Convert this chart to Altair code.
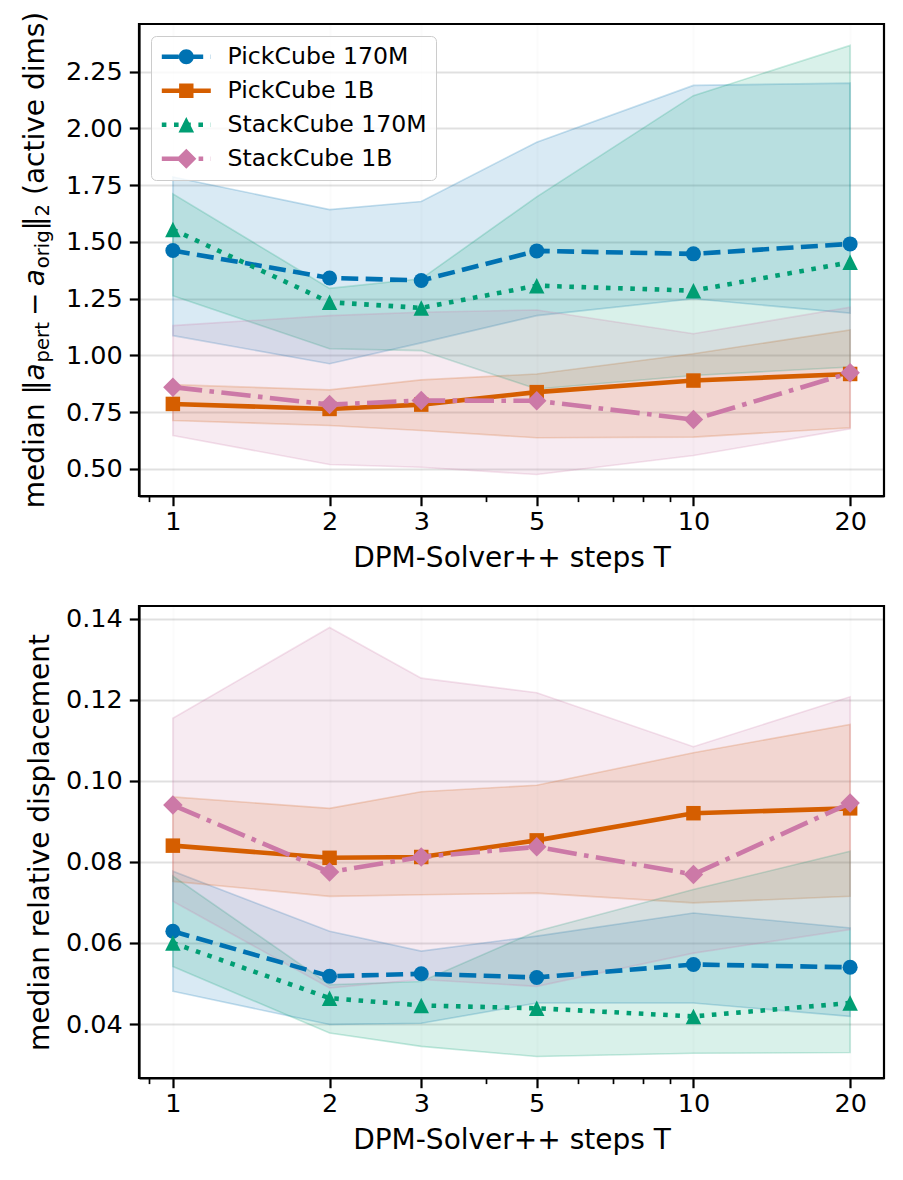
import math
import altair as alt
import pandas as pd

# ---------------- data ----------------
steps = [1, 2, 3, 5, 10, 20]
series_names = ["PickCube 170M", "PickCube 1B", "StackCube 170M", "StackCube 1B"]

# top panel: median ||a_pert - a_orig||_2 (active dims)
top_pick170_med = [1.462, 1.341, 1.330, 1.460, 1.447, 1.491]
top_pick170_lo = [1.087, 0.963, 1.055, 1.175, 1.249, 1.186]
top_pick170_hi = [1.786, 1.642, 1.678, 1.939, 2.189, 2.199]

top_pick1b_med = [0.786, 0.764, 0.783, 0.838, 0.889, 0.918]
top_pick1b_lo = [0.713, 0.691, 0.669, 0.637, 0.640, 0.681]
top_pick1b_hi = [0.871, 0.848, 0.892, 0.918, 1.007, 1.112]

top_stack170_med = [1.554, 1.234, 1.209, 1.307, 1.285, 1.410]
top_stack170_lo = [1.263, 1.029, 1.021, 0.852, 0.911, 0.949]
top_stack170_hi = [1.711, 1.295, 1.337, 1.698, 2.144, 2.365]

top_stack1b_med = [0.860, 0.783, 0.801, 0.800, 0.717, 0.923]
top_stack1b_lo = [0.647, 0.519, 0.507, 0.475, 0.559, 0.676]
top_stack1b_hi = [1.131, 1.175, 1.190, 1.200, 1.095, 1.212]

# bottom panel: median relative displacement
bot_pick170_med = [0.0629, 0.0518, 0.0524, 0.0515, 0.0547, 0.0540]
bot_pick170_lo = [0.0481, 0.0399, 0.0402, 0.0452, 0.0452, 0.0419]
bot_pick170_hi = [0.0777, 0.0629, 0.0580, 0.0617, 0.0674, 0.0637]

bot_pick1b_med = [0.0840, 0.0810, 0.0812, 0.0853, 0.0920, 0.0932]
bot_pick1b_lo = [0.0752, 0.0715, 0.0719, 0.0723, 0.0699, 0.0715]
bot_pick1b_hi = [0.0960, 0.0932, 0.0973, 0.0989, 0.1069, 0.1139]

bot_stack170_med = [0.0600, 0.0464, 0.0446, 0.0439, 0.0419, 0.0452]
bot_stack170_lo = [0.0542, 0.0378, 0.0345, 0.0320, 0.0328, 0.0330]
bot_stack170_hi = [0.0765, 0.0497, 0.0505, 0.0629, 0.0732, 0.0826]

bot_stack1b_med = [0.0940, 0.0775, 0.0812, 0.0837, 0.0769, 0.0945]
bot_stack1b_lo = [0.0703, 0.0489, 0.0510, 0.0493, 0.0575, 0.0633]
bot_stack1b_hi = [0.1154, 0.1378, 0.1253, 0.1217, 0.1084, 0.1207]

top_ticks = [0.50, 0.75, 1.00, 1.25, 1.50, 1.75, 2.00, 2.25]
bot_ticks = [0.04, 0.06, 0.08, 0.10, 0.12, 0.14]
x_major = [1, 2, 3, 5, 10, 20]
x_minor = [0.9, 4, 6, 7, 8, 9]

# ---------------- style ----------------
FONT = "DejaVu Sans"
colors = ["#0072B2", "#D55E00", "#009E73", "#CC79A7"]
LW = 4.6
dashes = [[17, 7.4], None, [4.6, 7.6], [29.4, 7.4, 4.6, 7.4]]
TRI = "M0,-1L1,1L-1,1Z"
DIA = "M0,-1L1,0L0,1L-1,0Z"
plot_shapes = ["circle", "square", TRI, DIA]
plot_sizes = [225, 210, 240, 380]

W, H = 745, 472


def legend_path(i):
    s = 10.0  # px per unit for symbolSize 400
    L0, L = -10.0, 49.0
    cx = L0 + L / 2
    h = LW / 2
    parts = []

    def rect(a, b):
        parts.append(f"M{a/s:.3f},{-h/s:.3f}L{b/s:.3f},{-h/s:.3f}L{b/s:.3f},{h/s:.3f}L{a/s:.3f},{h/s:.3f}Z")

    pat = dashes[i]
    if pat is None:
        rect(L0, L0 + L)
    else:
        pos, k = 0.0, 0
        while pos < L:
            seg = pat[k % len(pat)]
            if k % 2 == 0:
                rect(L0 + pos, L0 + min(pos + seg, L))
            pos += seg
            k += 1
    if i == 0:
        r = 7.5
        parts.append(f"M{(cx-r)/s:.3f},0A{r/s:.3f},{r/s:.3f} 0 1,1 {(cx+r)/s:.3f},0A{r/s:.3f},{r/s:.3f} 0 1,1 {(cx-r)/s:.3f},0Z")
    elif i == 1:
        a = 7.2
        parts.append(f"M{(cx-a)/s:.3f},{-a/s:.3f}L{(cx+a)/s:.3f},{-a/s:.3f}L{(cx+a)/s:.3f},{a/s:.3f}L{(cx-a)/s:.3f},{a/s:.3f}Z")
    elif i == 2:
        a = 7.8
        parts.append(f"M{cx/s:.3f},{-a/s:.3f}L{(cx+a)/s:.3f},{a/s:.3f}L{(cx-a)/s:.3f},{a/s:.3f}Z")
    else:
        a = 10.0
        parts.append(f"M{cx/s:.3f},{-a/s:.3f}L{(cx+a)/s:.3f},0L{cx/s:.3f},{a/s:.3f}L{(cx-a)/s:.3f},0Z")
    return "".join(parts)


legend_paths = [legend_path(i) for i in range(4)]


def padded(vals):
    lo, hi = min(vals), max(vals)
    m = 0.05 * (hi - lo)
    return [lo - m, hi + m]


lx = [math.log10(v) for v in steps]
lm = 0.05 * (lx[-1] - lx[0])
x_domain = [10 ** (lx[0] - lm), 10 ** (lx[-1] + lm)]

minor_test = "indexof([0.9,4,6,7,8,9], datum.value) >= 0"
x_axis = alt.Axis(
    values=sorted(x_major + x_minor),
    labelExpr="indexof([1,2,3,5,10,20], datum.value) >= 0 ? format(datum.value, 'd') : ''",
    labelOverlap=False,
    labelFlush=False,
    labelPadding=4,
    titlePadding=9,
    title="DPM-Solver++ steps T",
    tickSize={"condition": {"test": minor_test, "value": 5.6}, "value": 9.7},
    tickWidth={"condition": {"test": minor_test, "value": 1.7}, "value": 2.2},
    gridOpacity={"condition": {"test": minor_test, "value": 0}, "value": 0.12},
)
x_scale = alt.Scale(type="log", domain=x_domain, nice=False)


def panel(meds, los, his, ticks, ytitle, with_legend, title_pieces=None):
    all_vals = [v for arr in los + his + meds for v in arr]
    y_scale = alt.Scale(domain=padded(all_vals), nice=False, zero=False)
    y_axis = alt.Axis(values=ticks, format=".2f", title=ytitle)
    xenc = alt.X("T:Q", scale=x_scale, axis=x_axis)
    layers = []
    frames = []
    for i in range(4):
        df = pd.DataFrame({"T": steps, "med": meds[i], "lo": los[i], "hi": his[i],
                           "series": series_names[i]})
        frames.append(df)
        layers.append(
            alt.Chart(df).mark_area(fill=colors[i], fillOpacity=0.15, stroke=colors[i],
                                    strokeOpacity=0.22, strokeWidth=1.6).encode(
                x=xenc, y=alt.Y("lo:Q", scale=y_scale, axis=y_axis), y2="hi:Q")
        )
    for i in range(4):
        df = frames[i]
        line_kw = dict(color=colors[i], strokeWidth=LW)
        if dashes[i] is not None:
            line_kw["strokeDash"] = dashes[i]
        layers.append(
            alt.Chart(df).mark_line(**line_kw).encode(
                x=xenc, y=alt.Y("med:Q", scale=y_scale, axis=y_axis))
        )
        layers.append(
            alt.Chart(df).mark_point(filled=True, opacity=1, color=colors[i], shape=plot_shapes[i],
                                     size=plot_sizes[i], strokeWidth=0).encode(
                x=xenc, y=alt.Y("med:Q", scale=y_scale, axis=y_axis))
        )
    if with_legend:
        leg = dict(title=None, orient="top-left", offset=12, padding=9,
                   fillColor="rgba(255,255,255,0.8)", strokeColor="#cccccc",
                   cornerRadius=5, labelFont=FONT, labelFontSize=23.6, labelColor="black",
                   labelLimit=500, labelOffset=44, rowPadding=9, symbolSize=400,
                   symbolStrokeWidth=0, symbolOpacity=1)
        dfl = pd.concat(frames)
        layers.append(
            alt.Chart(dfl).mark_point(filled=True, opacity=1).encode(
                x=xenc, y=alt.Y("med:Q", scale=y_scale, axis=y_axis),
                color=alt.Color("series:N", scale=alt.Scale(domain=series_names, range=colors),
                                legend=alt.Legend(**leg)),
                shape=alt.Shape("series:N", scale=alt.Scale(domain=series_names, range=legend_paths),
                                legend=alt.Legend(**leg)),
            ).transform_filter("datum.T < 0")
        )
    if title_pieces:
        one = pd.DataFrame({"k": [0]})
        for txt, xp, yp, fs, style in title_pieces:
            kw = dict(text=txt, angle=270, align="left", baseline="alphabetic", font=FONT,
                      fontSize=fs, color="black")
            if style:
                kw["fontStyle"] = style
            layers.append(alt.Chart(one).mark_text(**kw).encode(x=alt.value(xp), y=alt.value(yp)))
    return alt.layer(*layers).properties(width=W, height=H)


# manual rotated y-title for the top panel (math with subscripts)
FS, SFS = 28.0, 19.6
base_x = -95.0
sub_x = base_x + 5.0
pieces_spec = [
    ("median", FS, None, 3.749, 0.318),
    ("‖", FS, None, 0.50, 0.0),
    ("a", FS, "italic", 0.613, 0.03),
    ("pert", SFS, None, 2.053, 0.22 * FS / SFS),
    ("−", FS, None, 0.838, 0.22),
    ("a", FS, "italic", 0.613, 0.03),
    ("orig", SFS, None, 1.936, 0.0),
    ("‖", FS, None, 0.50, 0.0),
    ("2", SFS, None, 0.636, 0.318 * FS / SFS),
    ("(active dims)", FS, None, 6.546, 0.0),
]
total = sum(w * fs + g * fs for _, fs, _, w, g in pieces_spec)
y0 = H / 2 + total / 2
title_pieces = []
pos = 0.0
for txt, fs, style, w, g in pieces_spec:
    xp = sub_x if fs == SFS else base_x
    title_pieces.append((txt, xp, y0 - pos, fs, style))
    pos += w * fs + g * fs

top = panel([top_pick170_med, top_pick1b_med, top_stack170_med, top_stack1b_med],
            [top_pick170_lo, top_pick1b_lo, top_stack170_lo, top_stack1b_lo],
            [top_pick170_hi, top_pick1b_hi, top_stack170_hi, top_stack1b_hi],
            top_ticks, None, True, title_pieces)
bottom = panel([bot_pick170_med, bot_pick1b_med, bot_stack170_med, bot_stack1b_med],
               [bot_pick170_lo, bot_pick1b_lo, bot_stack170_lo, bot_stack1b_lo],
               [bot_pick170_hi, bot_pick1b_hi, bot_stack170_hi, bot_stack1b_hi],
               bot_ticks, "median relative displacement", False)

chart = alt.vconcat(top, bottom, spacing=30).properties(
    padding={"left": 12, "top": 2, "right": 5, "bottom": 5}
).configure_axis(
    domainColor="black", domainWidth=2.2, tickColor="black", tickWidth=2.2, tickSize=9.7,
    labelFont=FONT, labelFontSize=25.5, labelColor="black", labelPadding=7,
    titleFont=FONT, titleFontSize=28, titleFontWeight="normal", titleColor="black",
    titlePadding=11, gridColor="black", gridOpacity=0.12, gridWidth=2,
).configure_view(stroke="black", strokeWidth=2.2)

chart.save("out.html", embed_options={"renderer": "svg", "actions": False})
